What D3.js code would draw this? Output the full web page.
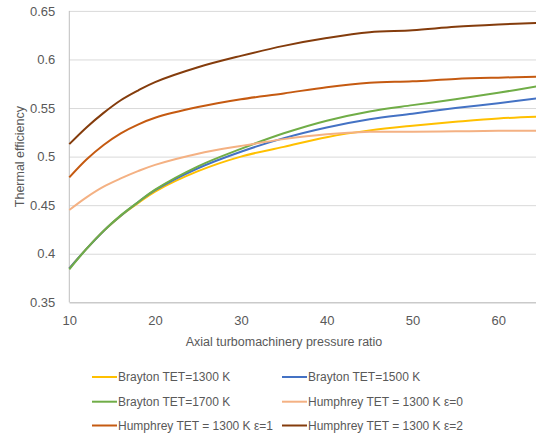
<!DOCTYPE html>
<html>
<head>
<meta charset="utf-8">
<script src="https://cdn.jsdelivr.net/npm/d3@7"></script>
<style>
	body { margin: 0; background: #fff; }
	svg { display: block; font-family: "Liberation Sans", Arial, sans-serif; }
	.tick text { fill: #595959; font-size: 13px; }
	.grid line { stroke: #d9d9d9; stroke-width: 1; }
	.grid .domain { display: none; }
	.line { fill: none; stroke-width: 2; }
</style>
</head>
<body>
<svg></svg>
<script>
	var pressureRatio = [10, 12, 14, 16, 18, 20, 25, 30, 35, 40, 45, 50, 55, 60, 65];

	var brayton1300 = [0.385, 0.405, 0.4235, 0.439, 0.452, 0.464, 0.485, 0.500, 0.510, 0.520, 0.527, 0.5318, 0.5358, 0.5393, 0.5413];
	var brayton1500 = [0.385, 0.405, 0.4235, 0.439, 0.453, 0.4655, 0.488, 0.505, 0.519, 0.530, 0.5385, 0.5442, 0.550, 0.555, 0.5605];
	var brayton1700 = [0.384, 0.405, 0.4235, 0.4395, 0.453, 0.466, 0.490, 0.508, 0.524, 0.537, 0.5465, 0.553, 0.559, 0.5657, 0.573];
	var humphreyE0 = [0.445, 0.458, 0.469, 0.4775, 0.485, 0.4915, 0.503, 0.511, 0.518, 0.523, 0.5255, 0.5255, 0.526, 0.5265, 0.5265];
	var humphreyE1 = [0.4786, 0.497, 0.512, 0.524, 0.533, 0.540, 0.551, 0.559, 0.565, 0.5715, 0.576, 0.5775, 0.580, 0.5813, 0.5822];
	var humphreyE2 = [0.5128, 0.530, 0.545, 0.558, 0.568, 0.5767, 0.592, 0.6037, 0.614, 0.622, 0.628, 0.630, 0.6336, 0.636, 0.6378];

	var seriesNames = ["Brayton TET=1300 K", "Brayton TET=1500 K", "Brayton TET=1700 K",
		"Humphrey TET = 1300 K \u03b5=0", "Humphrey TET = 1300 K \u03b5=1", "Humphrey TET = 1300 K \u03b5=2"];
	var seriesValues = [brayton1300, brayton1500, brayton1700, humphreyE0, humphreyE1, humphreyE2];
	var colors = ["#ffc000", "#4472c4", "#70ad47", "#f4b183", "#c55a11", "#843c0c"];

	var yTicks = [0.35, 0.4, 0.45, 0.5, 0.55, 0.6, 0.65];
	var xTicks = [10, 20, 30, 40, 50, 60];

	var W = 536, H = 437;
	var svg = d3.select("svg").attr("width", W).attr("height", H);

	var x = d3.scaleLinear().domain([10, 65]).range([69.3, 541.2]);
	var y = d3.scaleLinear().domain([0.35, 0.65]).range([302.3, 10.9]);

	svg.append("defs").append("clipPath").attr("id", "clip")
		.append("rect").attr("x", 60).attr("y", 0).attr("width", W - 60).attr("height", 310);

	// gridlines + y labels
	svg.append("g")
		.attr("class", "grid")
		.attr("transform", "translate(" + x(10) + ",0)")
		.call(d3.axisLeft(y).tickValues(yTicks).tickSize(-(x(65) - x(10)))
			.tickFormat(d => String(+d.toFixed(2))))
		.call(g => g.selectAll(".tick text").attr("x", -14));

	// left axis line
	svg.append("line")
		.attr("x1", x(10)).attr("x2", x(10))
		.attr("y1", y(0.65)).attr("y2", y(0.35))
		.attr("stroke", "#bfbfbf");

	// bottom axis
	svg.append("g")
		.attr("transform", "translate(0," + y(0.35) + ")")
		.call(d3.axisBottom(x).tickValues(xTicks).tickSize(0).tickPadding(13))
		.call(g => g.select(".domain").attr("stroke", "#bfbfbf"));

	var line = d3.line()
		.curve(d3.curveCatmullRom.alpha(0.5))
		.x((d, i) => x(pressureRatio[i]))
		.y(d => y(d));

	svg.append("g").attr("clip-path", "url(#clip)")
		.selectAll("path")
		.data(seriesValues)
		.enter()
		.append("path")
		.attr("class", "line")
		.attr("stroke", (d, i) => colors[i])
		.attr("d", d => line(d));

	// axis titles
	svg.append("text")
		.attr("x", 284).attr("y", 346)
		.attr("text-anchor", "middle")
		.attr("fill", "#595959")
		.attr("font-size", "12.5px")
		.text("Axial turbomachinery pressure ratio");

	svg.append("text")
		.attr("transform", "translate(24," + ((y(0.65) + y(0.35)) / 2) + ") rotate(-90)")
		.attr("text-anchor", "middle")
		.attr("fill", "#595959")
		.attr("font-size", "12.5px")
		.text("Thermal efficiency");

	// legend
	var legendX = [92, 282];
	var legendY = [377, 401.7, 425.5];
	var legend = svg.append("g")
		.selectAll("g")
		.data(seriesNames)
		.enter()
		.append("g")
		.attr("transform", (d, i) => "translate(" + legendX[i % 2] + "," + legendY[Math.floor(i / 2)] + ")");

	legend.append("line")
		.attr("x1", 0).attr("x2", 25)
		.attr("stroke", (d, i) => colors[i])
		.attr("stroke-width", 2);

	legend.append("text")
		.attr("x", 26).attr("dy", "0.35em")
		.attr("fill", "#595959")
		.attr("font-size", "12px")
		.text(d => d);
</script>
</body>
</html>
